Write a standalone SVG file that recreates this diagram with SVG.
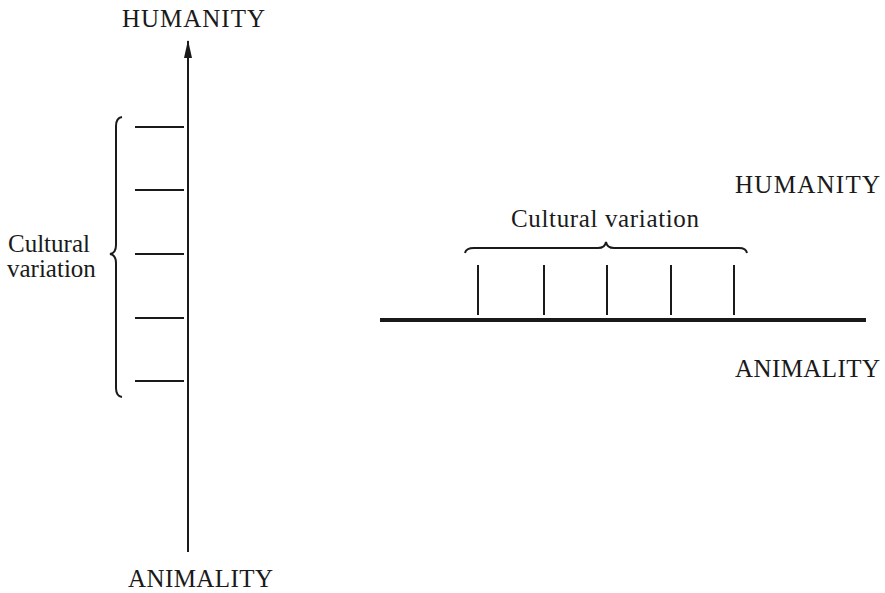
<svg xmlns="http://www.w3.org/2000/svg" width="885" height="593" viewBox="0 0 885 593">
  <style>
    .lbl { font-family: "Liberation Serif", "Times New Roman", serif; font-size: 25px; fill: #1a1a1a; }
    .ln { stroke: #1a1a1a; stroke-width: 2; fill: none; }
    .thick { stroke: #1a1a1a; stroke-width: 4; fill: none; }
  </style>
  <defs>
    <!-- slender filled arrowhead pointing along the line direction -->
    <marker id="arrowhead" viewBox="0 0 18 8" refX="17" refY="4" markerWidth="18" markerHeight="8" markerUnits="userSpaceOnUse" orient="auto">
      <path d="M0,0 L18,4 L0,8 Z" fill="#1a1a1a"/>
    </marker>
  </defs>
  <rect width="885" height="593" fill="#ffffff"/>

  <!-- Vertical scale -->
  <g id="vertical-scale">
    <text class="lbl" x="122" y="27" textLength="143" lengthAdjust="spacing">HUMANITY</text>
    <text class="lbl" x="128" y="587" textLength="145" lengthAdjust="spacing">ANIMALITY</text>
    <line class="ln" x1="188" y1="552" x2="188" y2="41" marker-end="url(#arrowhead)"/>
    <g id="vertical-ticks">
      <line class="ln" x1="135" y1="127" x2="184" y2="127"/>
      <line class="ln" x1="135" y1="190" x2="184" y2="190"/>
      <line class="ln" x1="135" y1="254" x2="184" y2="254"/>
      <line class="ln" x1="135" y1="318" x2="184" y2="318"/>
      <line class="ln" x1="135" y1="381" x2="184" y2="381"/>
    </g>
    <path class="ln" d="M122,117 Q116,118 116,126 L116,245 Q116,253 110,254 Q116,255 116,263 L116,388 Q116,396 122,397"/>
    <text class="lbl" x="8" y="252">Cultural</text>
    <text class="lbl" x="7" y="277">variation</text>
  </g>

  <!-- Horizontal scale -->
  <g id="horizontal-scale">
    <text class="lbl" x="735" y="193" textLength="145" lengthAdjust="spacing">HUMANITY</text>
    <text class="lbl" x="735" y="377" textLength="145" lengthAdjust="spacing">ANIMALITY</text>
    <text class="lbl" x="511" y="227" textLength="188" lengthAdjust="spacing">Cultural variation</text>
    <path class="ln" d="M465,253 Q466,248 474,248 L598,248 Q605,248 606,242 Q607,248 614,248 L739,248 Q746,248 747,253"/>
    <line class="thick" x1="380" y1="320" x2="866" y2="320"/>
    <g id="horizontal-ticks">
      <line class="ln" x1="478" y1="265" x2="478" y2="315"/>
      <line class="ln" x1="544" y1="265" x2="544" y2="315"/>
      <line class="ln" x1="607" y1="265" x2="607" y2="315"/>
      <line class="ln" x1="671" y1="265" x2="671" y2="315"/>
      <line class="ln" x1="734" y1="265" x2="734" y2="315"/>
    </g>
  </g>
</svg>
